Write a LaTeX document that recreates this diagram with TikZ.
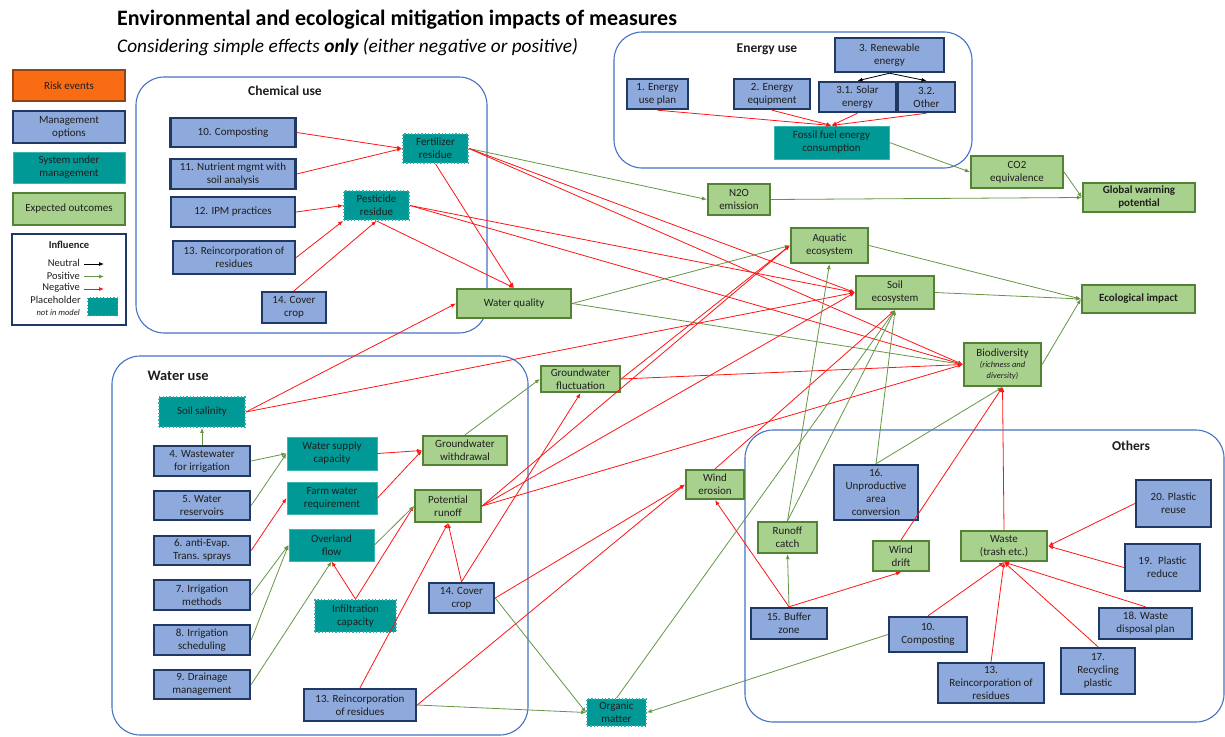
\documentclass[tikz,border=0pt]{standalone}
\usepackage{fontspec}
\setmainfont{Carlito}
\usetikzlibrary{arrows.meta}
\definecolor{mfill}{RGB}{142,169,219}
\definecolor{mdraw}{RGB}{31,56,100}
\definecolor{sfill}{RGB}{0,153,150}
\definecolor{sdraw}{RGB}{60,180,175}
\definecolor{pdraw}{RGB}{45,175,170}
\definecolor{ofill}{RGB}{169,209,142}
\definecolor{odraw}{RGB}{84,130,53}
\definecolor{rfill}{RGB}{250,108,20}
\definecolor{rdraw}{RGB}{140,70,25}
\definecolor{gdraw}{RGB}{68,114,196}
\definecolor{negc}{RGB}{255,20,20}
\definecolor{posc}{RGB}{100,150,70}
\definecolor{txt}{RGB}{30,30,30}
\newcommand{\nf}{\fontsize{11}{13}\selectfont}
\newcommand{\nd}[6]{\node[#1, minimum width=#4pt, minimum height=#5pt] (#2) at (#3) {#6};}
\tikzset{
  base/.style={align=center, inner sep=1pt, font=\nf, text=txt},
  mgmt/.style={base, fill=mfill, draw=mdraw, line width=2.4pt},
  sys/.style={base, fill=sfill, draw=sdraw, line width=1pt},
  outc/.style={base, fill=ofill, draw=odraw, line width=2.2pt},
  risk/.style={base, fill=rfill, draw=rdraw, line width=2.2pt},
  ph/.style={base, fill=sfill, draw=pdraw, line width=1.8pt, dash pattern=on 1.2pt off 2.2pt},
  grp/.style={draw=gdraw, line width=1.1pt, rounded corners=28pt},
  grptitle/.style={font=\fontsize{13.5}{16}\selectfont\bfseries, text=txt},
  negarr/.style={draw=negc, line width=0.8pt, -{Latex[length=5pt,width=4pt]}},
  posarr/.style={draw=posc, line width=0.8pt, -{Latex[length=5pt,width=4pt]}},
  neuarr/.style={draw=black, line width=0.8pt, -{Latex[length=5pt,width=4pt]}},
  lgt/.style={font=\fontsize{10.5}{12}\selectfont, text=txt, anchor=east, inner sep=0pt}
}
\begin{document}
\begin{tikzpicture}[x=1pt,y=-1pt]
\useasboundingbox (0,0) rectangle (1225,736);
% titles
\node[anchor=west, inner sep=0pt, font=\fontsize{22}{26}\selectfont\bfseries] (title) at (117,20) {Environmental and ecological mitigation impacts of measures};
\node[anchor=west, inner sep=0pt, font=\fontsize{19.3}{22}\selectfont\itshape] (subtitle) at (117,47) {Considering simple effects \textbf{only} (either negative or positive)};
% groups
\draw[grp] (136,77) rectangle (487,333);
\draw[grp] (614,32) rectangle (972,168);
\draw[grp] (112,356) rectangle (528,735);
\draw[grp] (745,430) rectangle (1224,722);
\node[grptitle] (tchem) at (285,91) {Chemical use};
\node[grptitle] (tener) at (767,49) {Energy use};
\node[grptitle, anchor=west, font=\fontsize{14.5}{17}\selectfont\bfseries] (twater) at (144,376) {Water use};
\node[grptitle] (tother) at (1131,446) {Others};
% legend
\nd{risk}{lrisk}{69,85.5}{112}{31}{Risk events}
\nd{mgmt}{lmg}{69,127}{112}{32}{Management\\options}
\nd{sys}{lsys}{69,167.5}{112}{31}{System under\\management}
\nd{outc}{lout}{69,209}{112}{32}{Expected outcomes}
\draw[draw=mdraw, line width=2.2pt, fill=white] (12,234) rectangle (126,325);
\node[font=\fontsize{10.5}{12}\selectfont\bfseries, text=txt] (linf) at (69,245) {Influence};
\node[lgt] (lneu) at (80,263) {Neutral};
\node[lgt] (lpos) at (80,275.5) {Positive};
\node[lgt] (lneg) at (80,288) {Negative};
\node[lgt] (lph) at (81,300) {Placeholder};
\node[lgt, font=\fontsize{8.5}{10}\selectfont\itshape] (lnim) at (80,312.5) {not in model};
\coordinate (a1) at (84,264); \coordinate (b1) at (104,264);
\coordinate (a2) at (84,276.5); \coordinate (b2) at (104,276.5);
\coordinate (a3) at (84,289); \coordinate (b3) at (104,289);
\draw[neuarr] (a1) -- (b1);
\draw[posarr] (a2) -- (b2);
\draw[negarr] (a3) -- (b3);
\nd{ph}{lphbox}{102.5,306.5}{30}{18}{}
% chemical
\nd{mgmt}{comp10a}{233,132.5}{125}{29}{10. Composting}
\nd{mgmt}{nutr11}{233,174}{125}{30}{11. Nutrient mgmt with\\soil analysis}
\nd{mgmt}{ipm12}{233,212}{124}{30}{12. IPM practices}
\nd{mgmt}{reinc13a}{234,257.5}{122}{33}{13. Reincorporation of\\residues}
\nd{mgmt}{cov14a}{294,307.5}{64}{31}{14. Cover\\crop}
\nd{ph}{fert}{435.5,148.5}{65}{29}{Fertilizer\\residue}
\nd{ph}{pest}{376.5,205.5}{65}{29}{Pesticide\\residue}
\nd{outc}{wq}{514,303.5}{114}{29}{Water quality}
% energy
\nd{mgmt}{ren3}{889.5,55}{109}{34}{3. Renewable\\energy}
\nd{mgmt}{eplan1}{657.5,94}{61}{30}{1. Energy\\use plan}
\nd{mgmt}{eequip2}{772,94}{76}{30}{2. Energy\\equipment}
\nd{mgmt}{sol31}{857.5,97}{77}{30}{3.1. Solar\\energy}
\nd{mgmt}{oth32}{926.5,97}{57}{30}{3.2.\\Other}
\nd{sys}{fossil}{831.5,142.5}{115}{33}{Fossil fuel energy\\consumption}
% outcomes
\nd{outc}{co2}{1017,172}{92}{32}{CO2\\equivalence}
\nd{outc}{gwp}{1139,197.5}{112}{29}{\textbf{Global warming}\\\textbf{potential}}
\nd{outc}{n2o}{739,199.5}{62}{31}{N2O\\emission}
\nd{outc}{aqua}{829.5,245.5}{77}{35}{Aquatic\\ecosystem}
\nd{outc}{soil}{895,292.5}{78}{33}{Soil\\ecosystem}
\nd{outc}{eco}{1138.5,299}{113}{28}{\textbf{Ecological impact}}
\nd{outc}{bio}{1002.5,364.5}{77}{43}{Biodiversity\\[-2pt]{\fontsize{8.5}{10}\selectfont\itshape (richness and}\\[-2pt]{\fontsize{8.5}{10}\selectfont\itshape diversity)}}
% water
\nd{ph}{salin}{202,412}{86}{30}{Soil salinity}
\nd{mgmt}{w4}{202,461}{96}{30}{4. Wastewater\\for irrigation}
\nd{mgmt}{w5}{202,505.5}{96}{29}{5. Water\\reservoirs}
\nd{mgmt}{w6}{202,550.5}{96}{29}{6. anti-Evap.\\Trans. sprays}
\nd{mgmt}{w7}{202,595}{96}{30}{7. Irrigation\\methods}
\nd{mgmt}{w8}{202,640}{96}{30}{8. Irrigation\\scheduling}
\nd{mgmt}{w9}{202,684.5}{96}{29}{9. Drainage\\management}
\nd{sys}{wsup}{332,453.5}{90}{33}{Water supply\\capacity}
\nd{sys}{farm}{332,498}{90}{32}{Farm water\\requirement}
\nd{sys}{over}{331.5,545}{85}{32}{Overland\\flow}
\nd{ph}{infil}{355.5,616}{81}{32}{Infiltration\\capacity}
\nd{outc}{gww}{465,450.5}{84}{29}{Groundwater\\withdrawal}
\nd{outc}{pr}{448,506}{66}{32}{Potential\\runoff}
\nd{mgmt}{cov14b}{461.5,598}{65}{30}{14. Cover\\crop}
\nd{mgmt}{reinc13b}{360,705}{112}{32}{13. Reincorporation\\of residues}
\nd{outc}{gwf}{580.5,379}{79}{26}{Groundwater\\fluctuation}
\nd{outc}{wind}{715,484.5}{58}{29}{Wind\\erosion}
\nd{ph}{org}{616.5,712.5}{59}{27}{Organic\\matter}
% others
\nd{mgmt}{u16}{876,492.5}{84}{55}{16.\\Unproductive\\area\\conversion}
\nd{outc}{runc}{787.5,537.5}{59}{31}{Runoff\\catch}
\nd{outc}{wdrift}{901,556}{56}{30}{Wind\\drift}
\nd{mgmt}{buf}{789,623.5}{76}{31}{15. Buffer\\zone}
\nd{outc}{waste}{1004,546}{86}{30}{Waste\\(trash etc.)}
\nd{mgmt}{p20}{1173.5,503.5}{75}{47}{20. Plastic\\reuse}
\nd{mgmt}{p19}{1162.5,567.5}{75}{47}{19.~ Plastic\\reduce}
\nd{mgmt}{wd18}{1145.5,623.5}{93}{31}{18. Waste\\disposal plan}
\nd{mgmt}{rp17}{1098,671}{74}{46}{17.\\Recycling\\plastic}
\nd{mgmt}{c10b}{928,634.5}{78}{35}{10.\\Composting}
\nd{mgmt}{r13c}{991,683}{106}{40}{13.\\Reincorporation of\\residues}
% ---- edges ----
% energy
\draw[neuarr] (ren3.south) -- (sol31.north);
\draw[neuarr] (ren3.south) -- (oth32.north);
\draw[negarr] (eplan1.south) -- (fossil.north);
\draw[negarr] (eequip2.south) -- (fossil.north);
\draw[negarr] (sol31.south) -- (fossil.north);
\draw[negarr] (oth32.south) -- (fossil.north);
\draw[posarr] (fossil.east) -- (co2.west);
\draw[posarr] (co2.east) -- (gwp.west);
\draw[posarr] (n2o.east) -- (gwp.west);
\draw[posarr] (fert.east) -- (n2o.west);
% chemical
\draw[negarr] (comp10a.east) -- (fert.west);
\draw[negarr] (nutr11.east) -- (fert.west);
\draw[negarr] (ipm12.east) -- (pest.west);
\draw[negarr] (reinc13a.east) -- (pest.south west);
\draw[negarr] (cov14a.north) -- (pest.south);
\draw[negarr] (fert.south) -- (wq.north);
\draw[negarr] (pest.south) -- (wq.north);
\draw[negarr] (fert.east) -- (soil.west);
\draw[negarr] (fert.east) -- (bio.west);
\draw[negarr] (pest.east) -- (soil.west);
\draw[negarr] (pest.east) -- (bio.west);
\draw[negarr] (salin.east) -- (wq.west);
\draw[negarr] (salin.east) -- (soil.west);
\draw[posarr] (wq.east) -- (aqua.west);
\draw[posarr] (wq.east) -- (bio.west);
\draw[posarr] (aqua.east) -- (eco.west);
\draw[posarr] (soil.east) -- (eco.west);
\draw[posarr] (bio.east) -- (eco.west);
% water
\draw[posarr] (w4.north) -- (salin.south);
\draw[posarr] (w4.east) -- (wsup.west);
\draw[posarr] (w5.east) -- (wsup.west);
\draw[negarr] (w6.east) -- (farm.west);
\draw[posarr] (w7.east) -- (over.west);
\draw[posarr] (w8.east) -- (over.west);
\draw[posarr] (w9.east) -- (over.south);
\draw[negarr] (infil.north) -- (over.south);
\draw[negarr] (infil.north) -- (pr.west);
\draw[posarr] (over.east) -- (pr.west);
\draw[negarr] (wsup.east) -- (gww.west);
\draw[negarr] (farm.east) -- (gww.west);
\draw[posarr] (gww.north) -- (gwf.west);
\draw[negarr] (reinc13b.north) -- (pr.south);
\draw[negarr] (reinc13b.east) -- (wind.west);
\draw[posarr] (reinc13b.east) -- (org.west);
\draw[negarr] (cov14b.north) -- (pr.south);
\draw[negarr] (cov14b.north) -- (gwf.south);
\draw[negarr] (cov14b.east) -- (wind.west);
\draw[posarr] (cov14b.east) -- (org.west);
\draw[negarr] (pr.east) -- (aqua.west);
\draw[negarr] (pr.east) -- (soil.west);
\draw[negarr] (pr.east) -- (bio.west);
\draw[negarr] (gwf.east) -- (aqua.west);
\draw[negarr] (gwf.east) -- (bio.west);
\draw[negarr] (wind.north) -- (soil.south);
\draw[posarr] (org.north) -- (soil.south);
% others
\draw[posarr] (runc.north) -- (aqua.south);
\draw[posarr] (runc.north) -- (soil.south);
\draw[posarr] (u16.north) -- (soil.south);
\draw[posarr] (u16.north) -- (bio.south);
\draw[negarr] (wdrift.north) -- (bio.south);
\draw[negarr] (waste.north) -- (bio.south);
\draw[negarr] (buf.north) -- (wind.south);
\draw[posarr] (buf.north) -- (runc.south);
\draw[negarr] (buf.north) -- (wdrift.south);
\draw[negarr] (c10b.north) -- (waste.south);
\draw[negarr] (r13c.north) -- (waste.south);
\draw[negarr] (rp17.north) -- (waste.south);
\draw[negarr] (wd18.north) -- (waste.south);
\draw[negarr] (p20.west) -- (waste.east);
\draw[negarr] (p19.west) -- (waste.east);
\draw[posarr] (c10b.west) -- (org.east);
\end{tikzpicture}
\end{document}
